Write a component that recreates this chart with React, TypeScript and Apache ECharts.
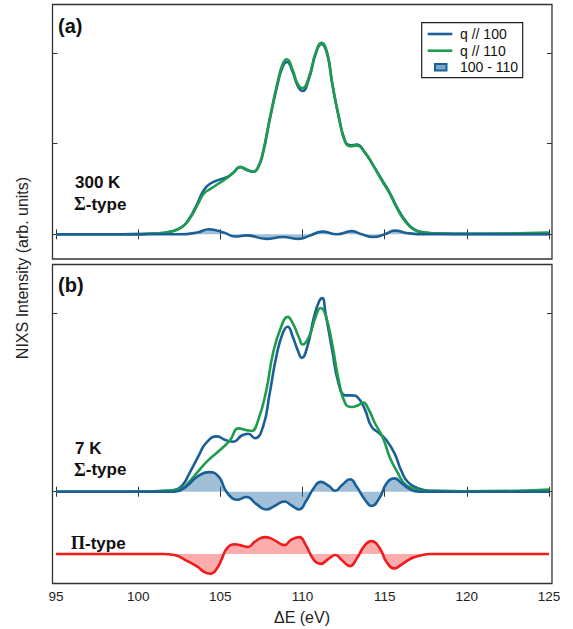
import React, { useEffect, useRef } from "react";
import * as echarts from "echarts";

// x ticks
const X_TICKS = [95, 100, 105, 110, 115, 120, 125];

// Panel (a): 300 K, Sigma-type
const A_Q100 = [[95,0],[98,0],[100,0.002],[101,0.008],[102,0.03],[102.7,0.085],[103.2,0.2],[103.6,0.34],[104.0,0.49],[104.4,0.56],[104.9,0.6],[105.4,0.63],[105.8,0.68],[106.2,0.74],[106.6,0.71],[107.0,0.69],[107.3,0.74],[107.6,0.9],[108.0,1.26],[108.5,1.67],[108.8,1.85],[109.05,1.9],[109.4,1.79],[109.7,1.64],[110.0,1.58],[110.4,1.72],[110.8,1.99],[111.15,2.1],[111.5,1.99],[111.8,1.67],[112.2,1.3],[112.6,1.02],[112.9,0.98],[113.3,0.99],[113.8,0.9],[114.3,0.76],[114.8,0.61],[115.3,0.46],[115.8,0.28],[116.3,0.14],[116.8,0.055],[117.4,0.02],[118.5,0.008],[120,0.005],[122,0.005],[125,0.005]];
const A_Q110 = [[95,0],[98,0],[100,0.002],[101,0.008],[102,0.03],[102.7,0.085],[103.2,0.19],[103.6,0.32],[104.0,0.45],[104.4,0.5],[104.9,0.56],[105.4,0.62],[105.8,0.68],[106.2,0.745],[106.6,0.715],[107.0,0.69],[107.3,0.74],[107.6,0.91],[108.0,1.27],[108.5,1.69],[108.8,1.88],[109.05,1.93],[109.4,1.81],[109.7,1.66],[110.0,1.61],[110.4,1.74],[110.8,2.0],[111.15,2.11],[111.5,2.0],[111.8,1.67],[112.2,1.3],[112.6,1.02],[112.9,0.97],[113.3,0.98],[113.8,0.9],[114.3,0.76],[114.8,0.6],[115.3,0.45],[115.8,0.27],[116.3,0.13],[116.8,0.05],[117.4,0.02],[118.5,0.008],[120,0.006],[122,0.008],[125,0.02]];
const A_DIFF = [[95,0],[100,0],[102.5,0],[103.6,0.02],[104.3,0.055],[105.2,0.02],[105.9,-0.025],[106.6,-0.012],[107.8,-0.05],[108.8,-0.03],[109.8,-0.05],[110.5,-0.01],[111.2,0.03],[112.1,0],[113.0,0.035],[113.6,0],[114.3,-0.03],[115.0,0],[115.6,0.04],[116.5,0.01],[117.5,0],[120,0],[125,0]];

// Panel (b): 7 K, Sigma-type and Pi-type
const B_Q100 = [[95,0],[98,0],[100,0.002],[101.5,0.008],[102.2,0.02],[102.7,0.075],[103.1,0.2],[103.7,0.41],[104.1,0.54],[104.8,0.62],[105.3,0.58],[105.8,0.56],[106.3,0.63],[106.7,0.65],[107.1,0.6],[107.6,0.73],[108.0,1.1],[108.4,1.51],[108.8,1.78],[109.1,1.85],[109.4,1.74],[109.7,1.59],[109.96,1.5],[110.3,1.63],[110.7,1.96],[111.0,2.13],[111.2,2.17],[111.4,2.0],[111.8,1.59],[112.2,1.21],[112.6,1.08],[113.0,1.08],[113.4,1.05],[113.8,0.92],[114.2,0.73],[114.7,0.65],[115.1,0.58],[115.6,0.43],[116.0,0.24],[116.4,0.11],[117.0,0.04],[117.7,0.01],[120,0.004],[122,0.003],[125,0.002]];
const B_Q110 = [[95,0],[98,0],[100,0.002],[101.5,0.01],[102.2,0.02],[102.7,0.04],[103.1,0.11],[103.7,0.24],[104.3,0.36],[105.0,0.47],[105.6,0.58],[106.1,0.71],[106.6,0.69],[106.9,0.68],[107.3,0.8],[107.8,1.14],[108.2,1.55],[108.7,1.85],[109.1,1.96],[109.4,1.89],[109.8,1.72],[110.0,1.65],[110.4,1.74],[110.8,1.96],[111.1,2.06],[111.4,1.98],[111.8,1.66],[112.2,1.25],[112.6,0.99],[113.0,0.95],[113.4,0.97],[113.7,1.0],[114.0,0.93],[114.4,0.77],[114.9,0.6],[115.3,0.39],[115.8,0.21],[116.2,0.09],[116.7,0.04],[117.3,0.01],[120,0.005],[123,0.01],[125,0.025]];
const B_DIFF = [[95,0],[100,0],[102.2,0],[102.9,0.055],[103.6,0.17],[104.3,0.22],[104.9,0.17],[105.3,0.02],[105.7,-0.07],[106.0,-0.09],[106.6,-0.06],[107.2,-0.14],[107.8,-0.2],[108.3,-0.16],[108.9,-0.11],[109.3,-0.15],[109.8,-0.2],[110.2,-0.11],[110.7,0.045],[111.1,0.11],[111.6,0.065],[112.0,0.01],[112.4,0.075],[112.9,0.14],[113.3,0.055],[113.8,-0.09],[114.2,-0.16],[114.7,-0.065],[115.1,0.09],[115.6,0.15],[116.0,0.1],[116.6,0.02],[117.1,0],[120,0],[125,0]];
const B_PI = [[95,0],[98,0],[101.5,0],[102.2,-0.01],[102.9,-0.07],[103.6,-0.14],[104.0,-0.2],[104.4,-0.22],[104.8,-0.16],[105.1,-0.05],[105.4,0.065],[105.9,0.11],[106.2,0.1],[106.7,0.08],[107.1,0.14],[107.7,0.19],[108.2,0.165],[108.9,0.1],[109.3,0.16],[109.8,0.19],[110.2,0.1],[110.7,-0.07],[111.1,-0.11],[111.6,-0.05],[112.0,-0.01],[112.4,-0.07],[112.9,-0.135],[113.3,-0.05],[113.8,0.1],[114.2,0.145],[114.7,0.065],[115.1,-0.085],[115.6,-0.16],[116.0,-0.12],[116.6,-0.05],[117.1,-0.02],[117.8,0],[120,0],[125,0]];
const PI_BASE = -0.699;

const LEGEND_LABELS = ["q // 100", "q // 110", "100 - 110"];

const BLUE = "#1b5f97";
const GREEN = "#1f9b4c";
const BLUE_FILL = "rgba(31,105,160,0.6)";
const RED = "#f01b1b";
const RED_FILL = "rgba(245,40,40,0.55)";
const FRAME = "#333";
const FONT = "Liberation Sans, Arial, sans-serif";

function xAxisDef(grid: number, pos: "bottom" | "top", labels: boolean) {
  return {
    gridIndex: grid,
    type: "value",
    position: pos,
    min: 94.787,
    max: 125.18,
    axisLine: { show: false },
    splitLine: { show: false },
    axisTick: { show: true, inside: true, length: 5, customValues: X_TICKS, lineStyle: { color: FRAME, width: 1 } },
    axisLabel: labels
      ? { show: true, customValues: X_TICKS, margin: 6, fontSize: 13.5, color: "#222", fontFamily: FONT }
      : { show: false },
  };
}

function yAxisDef(grid: number, pos: "left" | "right", min: number, max: number, ticks: number[]) {
  return {
    gridIndex: grid,
    type: "value",
    position: pos,
    min,
    max,
    axisLine: { show: false },
    splitLine: { show: false },
    axisLabel: { show: false },
    axisTick: { show: true, inside: true, length: 5, customValues: ticks, lineStyle: { color: FRAME, width: 1 } },
  };
}

function lineSeries(data: number[][], color: string, xi: number, yi: number, area?: any, z = 2) {
  return {
    type: "line",
    xAxisIndex: xi,
    yAxisIndex: yi,
    data,
    showSymbol: false,
    smooth: 0.5,
    lineStyle: { color, width: 2.6, join: "round" },
    areaStyle: area,
    z,
  };
}

export default function App() {
  const ref = useRef<HTMLDivElement>(null);
  useEffect(() => {
    if (!ref.current) return;
    const chart = echarts.init(ref.current, null, { renderer: "svg" });
    const piData = B_PI.map(([x, v]) => [x, PI_BASE + v]);
    const richLabel = (txt: string) => ({
      text: txt, verticalAlign: "middle",
      rich: { g: { font: `bold 18px Liberation Serif, serif`, fill: "#111" }, t: { font: `bold 17px ${FONT}`, fill: "#111" } },
    });
    const option: any = {
      animation: false,
      backgroundColor: "#fff",
      grid: [
        { left: 52.5, top: 4.5, width: 499.5, height: 254.5, show: true, borderColor: FRAME, borderWidth: 1.3, backgroundColor: "transparent" },
        { left: 52.5, top: 264.5, width: 499.5, height: 319, show: true, borderColor: FRAME, borderWidth: 1.3, backgroundColor: "transparent" },
      ],
      xAxis: [
        xAxisDef(0, "bottom", false),
        xAxisDef(0, "top", false),
        xAxisDef(1, "bottom", true),
        xAxisDef(1, "top", false),
      ],
      yAxis: [
        yAxisDef(0, "left", -0.2723, 2.5336, [0, 1, 2]),
        yAxisDef(0, "right", -0.2723, 2.5336, [0, 1, 2]),
        yAxisDef(1, "left", -1.029, 2.547, [0, 2]),
        yAxisDef(1, "right", -1.029, 2.547, [0, 2]),
      ],
      series: [
        { ...lineSeries(A_Q100, BLUE, 0, 0), name: LEGEND_LABELS[0] },
        { ...lineSeries(A_Q110, GREEN, 0, 0), name: LEGEND_LABELS[1] },
        { ...lineSeries(A_DIFF, BLUE, 0, 0, { color: BLUE_FILL, origin: 0 }, 3), name: LEGEND_LABELS[2] },
        { ...lineSeries(B_Q100, BLUE, 2, 2), name: LEGEND_LABELS[0] + " (b)" },
        { ...lineSeries(B_Q110, GREEN, 2, 2), name: LEGEND_LABELS[1] + " (b)" },
        { ...lineSeries(B_DIFF, BLUE, 2, 2, { color: BLUE_FILL, origin: 0 }, 3), name: LEGEND_LABELS[2] + " (b)" },
        { ...lineSeries(piData, RED, 2, 2, { color: RED_FILL, origin: PI_BASE }, 3), name: "Pi-type" },
      ],
      graphic: [
        { type: "text", left: 58, top: 16, style: { text: "(a)", font: `bold 20px ${FONT}`, fill: "#111" } },
        { type: "text", left: 58, top: 275, style: { text: "(b)", font: `bold 20px ${FONT}`, fill: "#111" } },
        { type: "text", x: 75, y: 182, style: { text: "300 K", font: `bold 17px ${FONT}`, fill: "#111", verticalAlign: "middle" } },
        { type: "text", x: 74, y: 204, style: richLabel("{g|Σ}{t|-type}") },
        { type: "text", x: 75, y: 448, style: { text: "7 K", font: `bold 17px ${FONT}`, fill: "#111", verticalAlign: "middle" } },
        { type: "text", x: 74, y: 469.5, style: richLabel("{g|Σ}{t|-type}") },
        { type: "text", x: 71, y: 543, style: richLabel("{g|Π}{t|-type}") },
        // legend
        { type: "rect", shape: { x: 421.7, y: 22.7, width: 101, height: 55 }, style: { fill: "#fff", stroke: "#222", lineWidth: 1.2 }, z: 10 },
        { type: "line", shape: { x1: 427.7, y1: 34, x2: 452.3, y2: 34 }, style: { stroke: BLUE, lineWidth: 2.6 }, z: 11 },
        { type: "line", shape: { x1: 427.7, y1: 50.7, x2: 452.3, y2: 50.7 }, style: { stroke: GREEN, lineWidth: 2.6 }, z: 11 },
        { type: "rect", shape: { x: 435, y: 64, width: 11.5, height: 6.5 }, style: { fill: "#7aa6c9", stroke: BLUE, lineWidth: 2 }, z: 11 },
        { type: "text", x: 460, y: 34, style: { text: LEGEND_LABELS[0], font: `14px ${FONT}`, fill: "#111", verticalAlign: "middle" }, z: 11 },
        { type: "text", x: 460, y: 50.7, style: { text: LEGEND_LABELS[1], font: `14px ${FONT}`, fill: "#111", verticalAlign: "middle" }, z: 11 },
        { type: "text", x: 460, y: 67.3, style: { text: LEGEND_LABELS[2], font: `14px ${FONT}`, fill: "#111", verticalAlign: "middle" }, z: 11 },
        // axis titles
        {
          type: "text", x: 22, y: 268, rotation: Math.PI / 2,
          style: { text: "NIXS Intensity (arb. units)", font: `16px ${FONT}`, fill: "#222", align: "center", verticalAlign: "middle" },
        },
        { type: "text", x: 302, y: 617, style: { text: "ΔE (eV)", font: `16px ${FONT}`, fill: "#222", align: "center", verticalAlign: "middle" } },
      ],
    };
    chart.setOption(option);
    return () => chart.dispose();
  }, []);
  return <div ref={ref} style={{ position: "fixed", left: 0, top: 0, width: 573, height: 629 }} />;
}
